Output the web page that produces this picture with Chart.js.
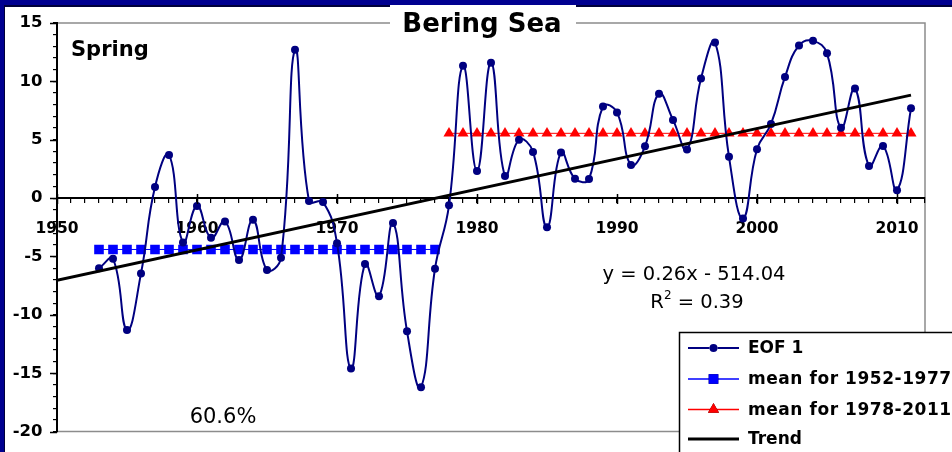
<!DOCTYPE html>
<html>
<head>
<meta charset="utf-8">
<script src="https://cdn.jsdelivr.net/npm/chart.js@4/dist/chart.umd.min.js"></script>
<style>
  html, body { margin: 0; padding: 0; background: #fff; }
  canvas { display: block; }
</style>
</head>
<body>
<canvas id="chart" width="952" height="452"></canvas>
<script>
// Bering Sea spring EOF 1 index, yearly values
const years = [1953, 1954, 1955, 1956, 1957, 1958, 1959, 1960, 1961, 1962,
               1963, 1964, 1965, 1966, 1967, 1968, 1969, 1970, 1971, 1972,
               1973, 1974, 1975, 1976, 1977, 1978, 1979, 1980, 1981, 1982,
               1983, 1984, 1985, 1986, 1987, 1988, 1989, 1990, 1991, 1992,
               1993, 1994, 1995, 1996, 1997, 1998, 1999, 2000, 2001, 2002,
               2003, 2004, 2005, 2006, 2007, 2008, 2009, 2010, 2011];
const eof1 = [-6.0, -5.2, -11.3, -6.45, 0.95, 3.7, -3.8, -0.68, -3.4, -2.0,
              -5.3, -1.86, -6.16, -5.1, 12.7, -0.25, -0.34, -3.86, -14.6, -5.65,
              -8.4, -2.14, -11.4, -16.2, -6.05, -0.62, 11.33, 2.33, 11.6, 1.9,
              5.0, 3.96, -2.5, 3.9, 1.66, 1.63, 7.85, 7.34, 2.84, 4.44,
              8.94, 6.7, 4.16, 10.24, 13.33, 3.54, -1.75, 4.19, 6.35, 10.38,
              13.08, 13.47, 12.4, 6.02, 9.39, 2.75, 4.47, 0.68, 7.7];

// period means
const earlyEnd = 1977;
const meanEarly = -4.4;
const meanLate = 5.55;

// linear trend  y = 0.26x - 514.04
const trendSlope = 0.26;
const trendIntercept = -514.04;
const trendYears = [1950, 2011];

// axis labels
const xLabelYears = [1950, 1960, 1970, 1980, 1990, 2000, 2010];
const yLabelValues = [15, 10, 5, 0, -5, -10, -15, -20];

const seriesNames = ['EOF 1', 'mean for 1952-1977', 'mean for 1978-2011', 'Trend'];

const earlyYears = years.filter(y => y <= earlyEnd);
const lateYears = years.filter(y => y > earlyEnd);

const NAVY = '#000080';
const FONT = 'DejaVu Sans';

const framePlugin = {
  id: 'frame',
  beforeDraw(chart) {
    const ctx = chart.ctx;
    const W = chart.width, H = chart.height;
    const a = chart.chartArea;
    ctx.save();
    ctx.fillStyle = '#000090';
    ctx.fillRect(0, 0, W, H);
    ctx.fillStyle = '#00003a';
    ctx.fillRect(4, 5, W - 4, H - 5);
    ctx.fillStyle = '#ffffff';
    ctx.fillRect(5, 7, W - 5, H - 7);
    // plot area outline
    ctx.strokeStyle = '#8c8c8c';
    ctx.lineWidth = 1.5;
    ctx.beginPath();
    ctx.moveTo(a.left, a.top);
    ctx.lineTo(a.right, a.top);
    ctx.lineTo(a.right, a.bottom);
    ctx.lineTo(a.left, a.bottom);
    ctx.stroke();
    ctx.restore();
  }
};

const decorPlugin = {
  id: 'decor',
  afterDraw(chart) {
    const ctx = chart.ctx;
    const xs = chart.scales.x, ys = chart.scales.y;
    const y0 = ys.getPixelForValue(0);
    ctx.save();

    // major tick marks crossing the axes
    ctx.strokeStyle = '#000';
    ctx.lineWidth = 1.5;
    ctx.beginPath();
    xLabelYears.forEach(v => {
      const px = Math.round(xs.getPixelForValue(v)) + 0.5;
      ctx.moveTo(px, y0 - 4);
      ctx.lineTo(px, y0 + 6);
    });
    yLabelValues.forEach(v => {
      const py = Math.round(ys.getPixelForValue(v)) + 0.5;
      ctx.moveTo(xs.left - 7, py);
      ctx.lineTo(xs.left, py);
    });
    ctx.stroke();

    // title on a white box
    ctx.fillStyle = '#fff';
    ctx.fillRect(390, 5, 186, 36);
    ctx.fillStyle = '#000';
    ctx.font = `bold 26px "${FONT}"`;
    ctx.textAlign = 'center';
    ctx.textBaseline = 'alphabetic';
    ctx.fillText('Bering Sea', 482, 32);

    ctx.textAlign = 'left';
    ctx.font = `bold 21px "${FONT}"`;
    ctx.fillText('Spring', 71, 56);

    ctx.textAlign = 'center';
    ctx.font = `21px "${FONT}"`;
    ctx.fillText('60.6%', 223, 423);

    // trend equation
    const sign = trendIntercept < 0 ? '- ' : '+ ';
    ctx.font = `19.5px "${FONT}"`;
    ctx.fillText(`y = ${trendSlope}x ${sign}${Math.abs(trendIntercept).toFixed(2)}`, 694, 280);
    const r1 = 'R', r2 = '2', r3 = ' = 0.39';
    const supFont = `12px "${FONT}"`;
    const mainFont = `19.5px "${FONT}"`;
    ctx.font = mainFont;
    const w1 = ctx.measureText(r1).width, w3 = ctx.measureText(r3).width;
    ctx.font = supFont;
    const w2 = ctx.measureText(r2).width;
    let rx = 697 - (w1 + w2 + w3) / 2;
    ctx.textAlign = 'left';
    ctx.font = mainFont;
    ctx.fillText(r1, rx, 308);
    ctx.font = supFont;
    ctx.fillText(r2, rx + w1, 299);
    ctx.font = mainFont;
    ctx.fillText(r3, rx + w1 + w2, 308);

    // legend
    const lx = 679.5, ly = 332.5;
    ctx.fillStyle = '#fff';
    ctx.fillRect(lx, ly, 300, 150);
    ctx.strokeStyle = '#000';
    ctx.lineWidth = 1.5;
    ctx.strokeRect(lx, ly, 300, 150);
    const rows = [348, 379, 409.5, 439];
    const ds = chart.data.datasets;
    ds.forEach((d, i) => {
      const yy = rows[i];
      ctx.strokeStyle = d.borderColor;
      ctx.lineWidth = Math.max(d.borderWidth, 1.5);
      ctx.beginPath();
      ctx.moveTo(688, yy);
      ctx.lineTo(739, yy);
      ctx.stroke();
      if (d.pointRadius > 0) {
        Chart.helpers.drawPoint(ctx, {
          pointStyle: d.pointStyle, radius: d.pointRadius, rotation: 0, borderWidth: 0
        }, 713.5, yy);
        ctx.fillStyle = d.backgroundColor;
        ctx.fill();
      }
      ctx.fillStyle = '#000';
      ctx.font = `bold 17px "${FONT}"`;
      ctx.textAlign = 'left';
      ctx.textBaseline = 'middle';
      ctx.letterSpacing = d.label.startsWith('mean') ? '0.55px' : '0px';
      ctx.fillText(d.label, 748, yy + 1);
      ctx.letterSpacing = '0px';
    });
    ctx.restore();
  }
};

const tickFontX = { family: FONT, size: 15.5, weight: 'bold' };
const tickFontY = { family: FONT, size: 16.5, weight: 'bold' };

new Chart(document.getElementById('chart'), {
  type: 'line',
  data: {
    datasets: [
      {
        label: seriesNames[0],
        data: years.map((x, i) => ({ x, y: eof1[i] })),
        borderColor: NAVY, backgroundColor: NAVY,
        borderWidth: 2, pointStyle: 'circle', pointRadius: 4, pointBorderWidth: 0,
        tension: 0.45, order: 1
      },
      {
        label: seriesNames[1],
        data: earlyYears.map(x => ({ x, y: meanEarly })),
        borderColor: '#0000ff', backgroundColor: '#0000ff',
        borderWidth: 1, pointStyle: 'rect', pointRadius: 6.8, pointBorderWidth: 0,
        tension: 0, order: 2
      },
      {
        label: seriesNames[2],
        data: lateYears.map(x => ({ x, y: meanLate })),
        borderColor: '#ff0000', backgroundColor: '#ff0000',
        borderWidth: 1, pointStyle: 'triangle', pointRadius: 6.4, pointBorderWidth: 0,
        tension: 0, order: 2
      },
      {
        label: seriesNames[3],
        data: trendYears.map(x => ({ x, y: trendSlope * x + trendIntercept })),
        borderColor: '#000000', backgroundColor: '#000000',
        borderWidth: 3, pointRadius: 0, tension: 0, order: 0
      }
    ]
  },
  options: {
    responsive: false,
    animation: false,
    devicePixelRatio: 1,
    layout: { padding: { left: 0, top: 23, right: 27, bottom: 15 } },
    plugins: { legend: { display: false }, tooltip: { enabled: false }, title: { display: false } },
    scales: {
      x: {
        type: 'linear', min: 1950, max: 2012,
        position: { y: 0 },
        border: { color: '#000', width: 2 },
        grid: { drawOnChartArea: false, drawTicks: true, tickLength: 4, color: '#000', lineWidth: 1.2 },
        ticks: {
          stepSize: 1, autoSkip: false, maxRotation: 0, includeBounds: true,
          color: '#000', font: tickFontX, padding: 18,
          callback: v => xLabelYears.includes(v) ? String(v) : ''
        }
      },
      y: {
        min: -20, max: 15,
        border: { color: '#000', width: 2 },
        grid: { drawOnChartArea: false, drawTicks: true, tickLength: 4, color: '#000', lineWidth: 1.2 },
        ticks: {
          stepSize: 1, autoSkip: false, color: '#000', font: tickFontY, padding: 10.5,
          callback: v => yLabelValues.includes(v) ? String(v) : ''
        },
        afterFit: s => { s.width = 57; }
      }
    }
  },
  plugins: [framePlugin, decorPlugin]
});
</script>
</body>
</html>
